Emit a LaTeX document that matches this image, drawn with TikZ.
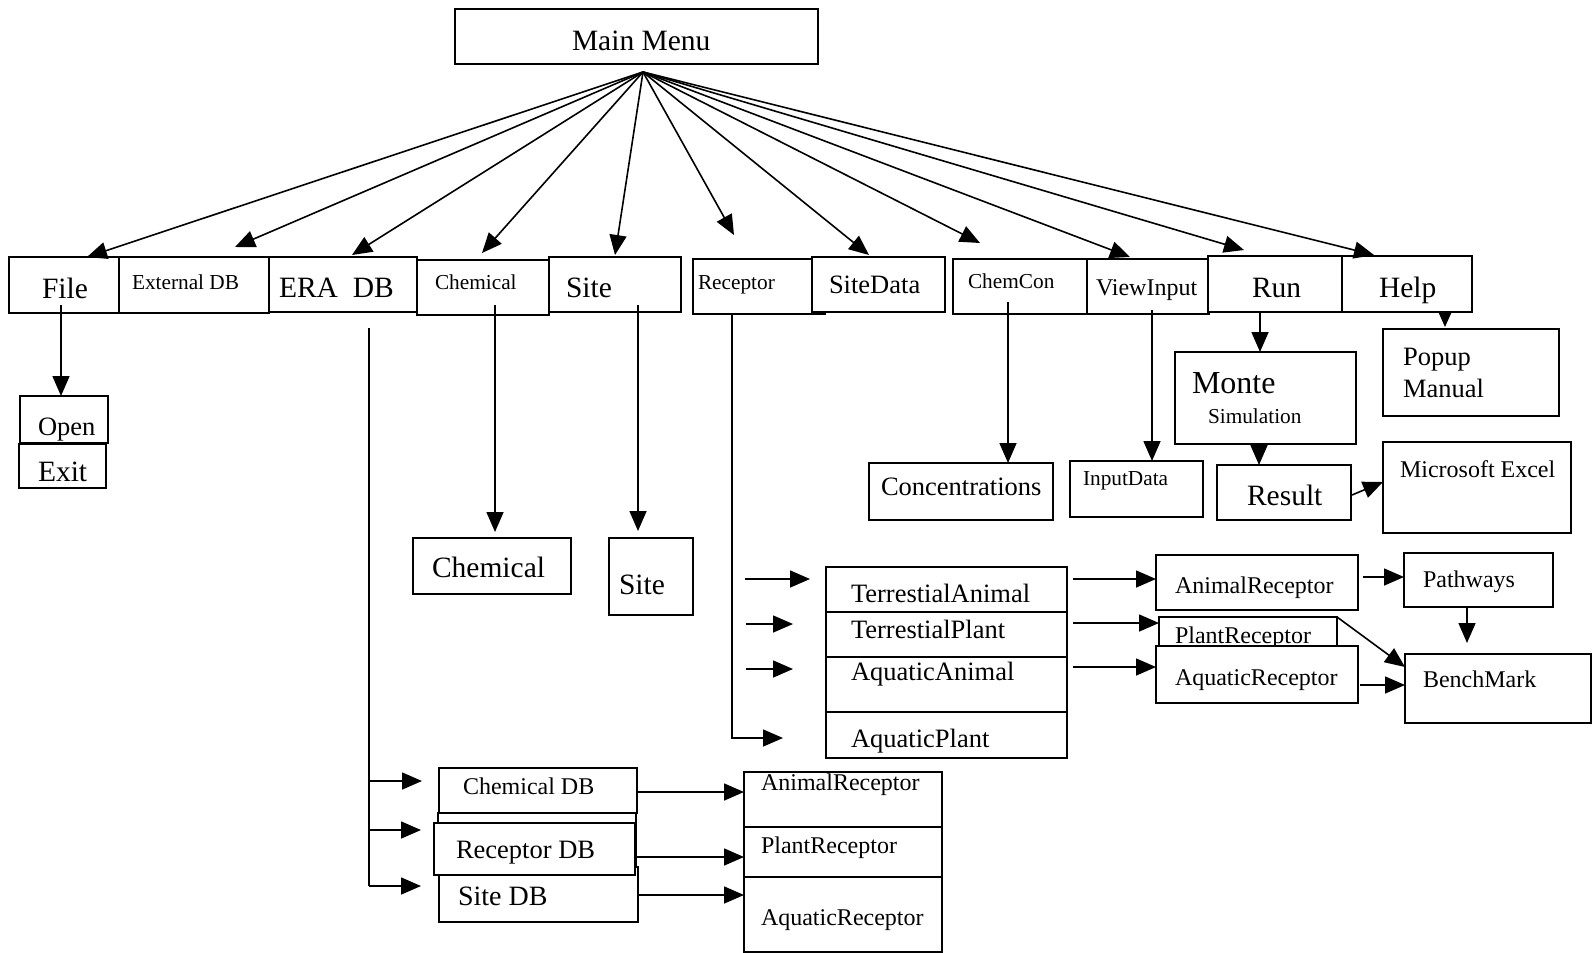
\documentclass[tikz,border=0pt]{standalone}
\usepackage{fontspec}
\setmainfont{Liberation Serif}
\usetikzlibrary{arrows.meta}

% box named #2 spanning (#3,#4)-(#5,#6), extra style #1
\newcommand{\mkbox}[6][]{%
  \node[boxst,#1,minimum width={#5-#3},minimum height={#6-#4}] (#2) at ({(#3+#5)/2},{(#4+#6)/2}) {};}
% label named #1, style #2, baseline start (#3,#4), text #5
\newcommand{\mktext}[5]{%
  \node[lbl,#2] (#1) at (#3,#4) {#5};}

\begin{document}
\begin{tikzpicture}[x=1pt,y=-1pt,
  boxst/.style={draw, line width=1.8pt, fill=white, rectangle, inner sep=0pt, outer sep=0pt},
  heavy/.style={line width=2.6pt},
  conn/.style={line width=1.6pt, -{Triangle[length=20pt,width=17pt]}},
  smallconn/.style={line width=1.6pt, -{Triangle[length=15pt,width=13pt]}},
  plain/.style={line width=1.6pt},
  lbl/.style={anchor=base west, inner sep=0pt, outer sep=0pt},
  tsmall/.style={font=\fontsize{21.3}{24}\selectfont},
  tmid/.style={font=\fontsize{24}{27}\selectfont},
  tlarge/.style={font=\fontsize{26.5}{29}\selectfont},
  thuge/.style={font=\fontsize{29.5}{32}\selectfont},
  tmonte/.style={font=\fontsize{32}{35}\selectfont},
]
\useasboundingbox (0,0) rectangle (1593,953);

% ---- top menu ----
\mkbox{mainmenu}{455}{9}{818}{64}
\mktext{mainmenu-t}{thuge}{572}{50}{Main Menu}

\mkbox{file}{9}{257}{119}{313}
\mktext{file-t}{thuge}{42}{298}{File}
\mkbox{extdb}{119}{257}{269}{313}
\mktext{extdb-t}{tsmall}{132}{289}{External DB}
\mkbox{eradb}{269}{257}{417}{312}
\mktext{eradb-t}{thuge}{279}{297}{ERA\ \ DB}
\mkbox{chem}{417}{260}{549}{315}
\mktext{chem-t}{tsmall}{435}{289}{Chemical}
\mkbox{site}{549}{257}{681}{312}
\mktext{site-t}{thuge}{566}{297}{Site}
\mkbox{recep}{693}{259}{825}{314}
\mktext{recep-t}{tsmall}{698}{289}{Receptor}
\mkbox{sitedata}{812}{257}{945}{312}
\mktext{sitedata-t}{tlarge}{829}{293}{SiteData}
\mkbox{chemcon}{953}{259}{1087}{314}
\mktext{chemcon-t}{tsmall}{968}{288}{ChemCon}
\mkbox{viewinput}{1087}{259}{1209}{314}
\mktext{viewinput-t}{tmid}{1096}{295}{ViewInput}
\mkbox{run}{1208}{256}{1342}{312}
\mktext{run-t}{thuge}{1252}{297}{Run}
\mkbox{help}{1342}{256}{1472}{312}
\mktext{help-t}{thuge}{1379}{297}{Help}

% ---- File submenu ----
\mkbox{open}{20}{396}{108}{443}
\mktext{open-t}{tlarge}{38}{435}{Open}
\mkbox{exit}{19}{444}{106}{488}
\mktext{exit-t}{thuge}{38}{481}{Exit}

% ---- Chemical / Site views ----
\mkbox{chemview}{413}{538}{571}{594}
\mktext{chemview-t}{thuge}{432}{577}{Chemical}
\mkbox{siteview}{609}{538}{693}{615}
\mktext{siteview-t}{thuge}{619}{594}{Site}

% ---- ChemCon / ViewInput / Run / Help ----
\mkbox{conc}{869}{463}{1053}{520}
\mktext{conc-t}{tlarge}{881}{495}{Concentrations}
\mkbox{inputdata}{1070}{461}{1203}{517}
\mktext{inputdata-t}{tsmall}{1083}{485}{InputData}
\mkbox{monte}{1175}{352}{1356}{444}
\mktext{monte-t}{tmonte}{1192}{393}{Monte}
\mktext{simulation-t}{tsmall}{1208}{423}{Simulation}
\mkbox{result}{1217}{465}{1351}{520}
\mktext{result-t}{thuge}{1247}{505}{Result}
\mkbox{excel}{1383}{442}{1571}{533}
\mktext{excel-t}{tmid}{1400}{477}{Microsoft Excel}
\mkbox{popup}{1383}{329}{1559}{416}
\mktext{popup-t}{tlarge}{1403}{365}{Popup}
\mktext{manual-t}{tlarge}{1403}{397}{Manual}

% ---- Receptor branch ----
\mkbox{tanimal}{826}{567}{1067}{612}
\mktext{tanimal-t}{tlarge}{851}{602}{TerrestialAnimal}
\mkbox{tplant}{826}{612}{1067}{657}
\mktext{tplant-t}{tlarge}{851}{638}{TerrestialPlant}
\mkbox{aanimal}{826}{657}{1067}{712}
\mktext{aanimal-t}{tlarge}{851}{680}{AquaticAnimal}
\mkbox{aplant}{826}{712}{1067}{758}
\mktext{aplant-t}{tlarge}{851}{747}{AquaticPlant}

\mkbox{animrec}{1156}{555}{1358}{610}
\mktext{animrec-t}{tmid}{1175}{593}{AnimalReceptor}
\mkbox{plantrec}{1159}{617}{1337}{650}
\mktext{plantrec-t}{tmid}{1175}{643}{PlantReceptor}
\mkbox{aquarec}{1156}{646}{1358}{703}
\mktext{aquarec-t}{tmid}{1175}{685}{AquaticReceptor}
\mkbox{pathways}{1404}{553}{1553}{607}
\mktext{pathways-t}{tmid}{1423}{587}{Pathways}
\mkbox{benchmark}{1405}{654}{1591}{723}
\mktext{benchmark-t}{tmid}{1423}{687}{BenchMark}

% ---- ERA DB branch ----
\mkbox{chemdb}{439}{768}{637}{813}
\mktext{chemdb-t}{tmid}{463}{794}{Chemical DB}
\mkbox{recdbback}{438}{813}{636}{867}
\mkbox{sitedb}{439}{867}{638}{922}
\mktext{sitedb-t}{font=\fontsize{28}{30}\selectfont}{458}{905}{Site DB}
\mkbox[heavy]{recdb}{434}{823}{635}{875}
\mktext{recdb-t}{tlarge}{456}{858}{Receptor DB}

\mkbox{animrecdb}{744}{772}{942}{827}
\mktext{animrecdb-t}{tmid}{761}{790}{AnimalReceptor}
\mkbox{plantrecdb}{744}{827}{942}{877}
\mktext{plantrecdb-t}{tmid}{761}{853}{PlantReceptor}
\mkbox{aquarecdb}{744}{877}{942}{952}
\mktext{aquarecdb-t}{tmid}{761}{925}{AquaticReceptor}

% ---- fan of arrows from the main menu ----
\coordinate (hub) at (643,72);
\coordinate (in-file) at (87,257);
\coordinate (in-extdb) at (235,247);
\coordinate (in-eradb) at (352,255);
\coordinate (in-chem) at (482,253);
\coordinate (in-site) at (615,255);
\coordinate (in-recep) at (734,235);
\coordinate (in-sitedata) at (869,255);
\coordinate (in-chemcon) at (980,243);
\coordinate (in-viewinput) at (1130,257);
\coordinate (in-run) at (1244,250);
\coordinate (in-help) at (1374,255);
\foreach \m in {file,extdb,eradb,chem,site,recep,sitedata,chemcon,viewinput,run,help}
  \draw[conn] (hub) -- (in-\m);

% ---- File ----
\coordinate (file-s) at (61,305);
\draw[conn] (file-s) -- (file-s |- open.north);

% ---- ERA DB ----
\coordinate (era-s) at (369,328);
\coordinate (era-b1) at (369,781);
\coordinate (era-b2) at (369,830);
\coordinate (era-b3) at (369,886);
\draw[plain] (era-s) -- (era-b3);
\draw[conn, shorten >=17pt] (era-b1) -- (chemdb.west |- era-b1);
\draw[conn, shorten >=13pt] (era-b2) -- (recdb.west |- era-b2);
\draw[conn, shorten >=18pt] (era-b3) -- (sitedb.west |- era-b3);

\coordinate (cd-s) at (637,792);
\coordinate (rd-s) at (635,857);
\coordinate (sd-s) at (638,895);
\draw[conn] (cd-s) -- (animrecdb.west |- cd-s);
\draw[conn] (rd-s) -- (plantrecdb.west |- rd-s);
\draw[conn] (sd-s) -- (aquarecdb.west |- sd-s);

% ---- Chemical and Site ----
\coordinate (chem-s) at (495,305);
\coordinate (site-s) at (638,305);
\draw[conn, shorten >=6pt] (chem-s) -- (chem-s |- chemview.north);
\draw[conn, shorten >=7pt] (site-s) -- (site-s |- siteview.north);

% ---- Receptor ----
\coordinate (recep-s) at (732,314);
\coordinate (rc4) at (732,738);
\draw[conn, shorten >=43pt] (recep-s) |- (aplant.west |- rc4);
\coordinate (ra1) at (745,579);
\coordinate (ra2) at (746,624);
\coordinate (ra3) at (746,669);
\draw[conn, shorten >=16pt] (ra1) -- (tanimal.west |- ra1);
\draw[conn, shorten >=33pt] (ra2) -- (tplant.west |- ra2);
\draw[conn, shorten >=33pt] (ra3) -- (aanimal.west |- ra3);

\coordinate (tx1) at (1073,579);
\coordinate (tx2) at (1073,623);
\coordinate (tx3) at (1073,667);
\draw[conn] (tx1) -- (animrec.west |- tx1);
\draw[conn] (tx2) -- (plantrec.west |- tx2);
\draw[conn] (tx3) -- (aquarec.west |- tx3);

\coordinate (ap1) at (1363,577);
\draw[conn] (ap1) -- (pathways.west |- ap1);
\coordinate (pb) at (1467,607);
\draw[conn, shorten >=11pt] (pb) -- (pb |- benchmark.north);
\coordinate (bm-in) at (1405,667);
\draw[conn] (plantrec.north east) -- (bm-in);
\coordinate (ab1) at (1360,685);
\draw[conn] (ab1) -- (benchmark.west |- ab1);

% ---- ChemCon, ViewInput, Run, Help ----
\coordinate (cc-s) at (1008,302);
\draw[conn] (cc-s) -- (cc-s |- conc.north);
\coordinate (vi-s) at (1152,310);
\draw[conn] (vi-s) -- (vi-s |- inputdata.north);
\coordinate (run-s) at (1260,312);
\draw[conn] (run-s) -- (run-s |- monte.north);
\coordinate (mr-s) at (1259,444);
\draw[conn] (mr-s) -- (mr-s |- result.north);
\coordinate (re-s) at (1352,495);
\coordinate (ex-in) at (1383,482);
\draw[conn] (re-s) -- (ex-in);
\coordinate (help-s) at (1445,312);
\draw[smallconn, shorten >=2pt] (help-s) -- (help-s |- popup.north);

\end{tikzpicture}
\end{document}
